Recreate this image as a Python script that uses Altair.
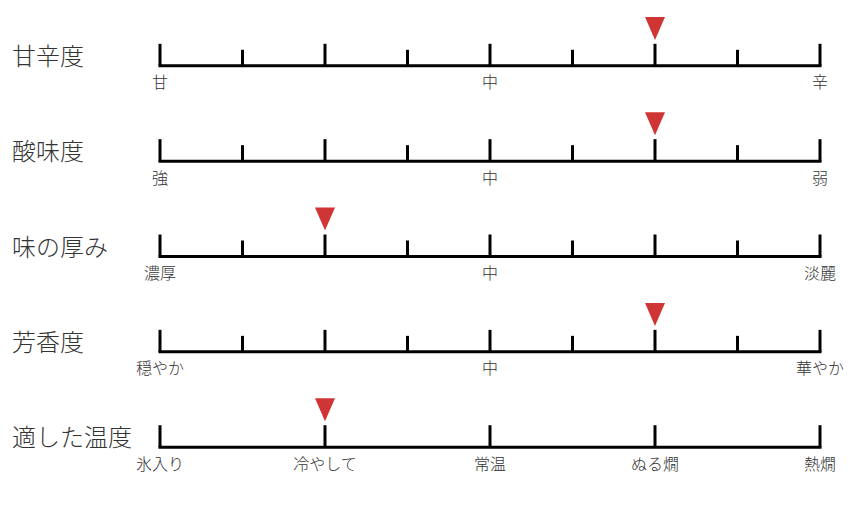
import altair as alt
import pandas as pd

# Tasting profile: one graded scale per attribute, marker shows the rating
rows = ["甘辛度", "酸味度", "味の厚み", "芳香度", "適した温度"]
ratings = [6, 6, 2, 6, 2]
scale_labels = [
    ["甘", "中", "辛"],
    ["強", "中", "弱"],
    ["濃厚", "中", "淡麗"],
    ["穏やか", "中", "華やか"],
    ["氷入り", "冷やして", "常温", "ぬる燗", "熱燗"],
]
major_steps = [0, 2, 4, 6, 8]
minor_steps = [1, 3, 5, 7]
scale_max = 8

FONT = "Noto Sans CJK JP"
TEXT_COLOR = "#333333"
MARK_COLOR = "#d03535"

# Build long tables from the lists
axis_df = pd.DataFrame({"row": rows, "start": 0, "end": scale_max})
major_df = pd.DataFrame([{"row": r, "pos": p} for r in rows for p in major_steps])
minor_df = pd.DataFrame([{"row": r, "pos": p} for r in rows[:4] for p in minor_steps])
marker_df = pd.DataFrame({"row": rows, "pos": ratings})
label_rows = []
for r, labs in zip(rows, scale_labels):
    if len(labs) == 3:
        positions = [0, scale_max // 2, scale_max]
    else:
        positions = major_steps
    for p, t in zip(positions, labs):
        label_rows.append({"row": r, "pos": p, "text": t})
label_df = pd.DataFrame(label_rows)
title_df = pd.DataFrame({"row": rows})

x_scale = alt.Scale(domain=[0, scale_max], range=[160, 820], nice=False, zero=False)
y_scale = alt.Scale(type="point", domain=rows, range=[65.8, 447.2], padding=0)

X = lambda f: alt.X(f, type="quantitative", scale=x_scale, axis=None)
Y = alt.Y("row:N", scale=y_scale, axis=None)

baseline = alt.Chart(axis_df).mark_rule(
    color="black", strokeWidth=3, strokeCap="square"
).encode(x=X("start"), x2="end", y=Y)

major = alt.Chart(major_df).mark_tick(
    orient="vertical", size=22, thickness=3, yOffset=-11, color="black", opacity=1
).encode(x=X("pos"), y=Y)

minor = alt.Chart(minor_df).mark_tick(
    orient="vertical", size=16, thickness=3, yOffset=-8, color="black", opacity=1
).encode(x=X("pos"), y=Y)

marker = alt.Chart(marker_df).mark_point(
    shape="M-1,-1.15L1,-1.15L0,1.15Z", size=400, filled=True,
    color=MARK_COLOR, opacity=1, yOffset=-37.4
).encode(x=X("pos"), y=Y)

labels = alt.Chart(label_df).mark_text(
    font=FONT, fontSize=16, fontWeight=300, color=TEXT_COLOR,
    baseline="middle", align="center", dy=17.5
).encode(x=X("pos"), y=Y, text="text:N")

titles = alt.Chart(title_df).mark_text(
    font=FONT, fontSize=24, fontWeight=300, color=TEXT_COLOR,
    baseline="middle", align="left", dy=-8
).encode(x=alt.value(12), y=Y, text="row:N")

chart = alt.layer(baseline, major, minor, marker, labels, titles).properties(
    width=850, height=506, padding=0, background="white",
    autosize=alt.AutoSizeParams(type="none")
).configure_view(stroke=None)

chart.save("out.html", embed_options={"renderer": "svg", "actions": False})
